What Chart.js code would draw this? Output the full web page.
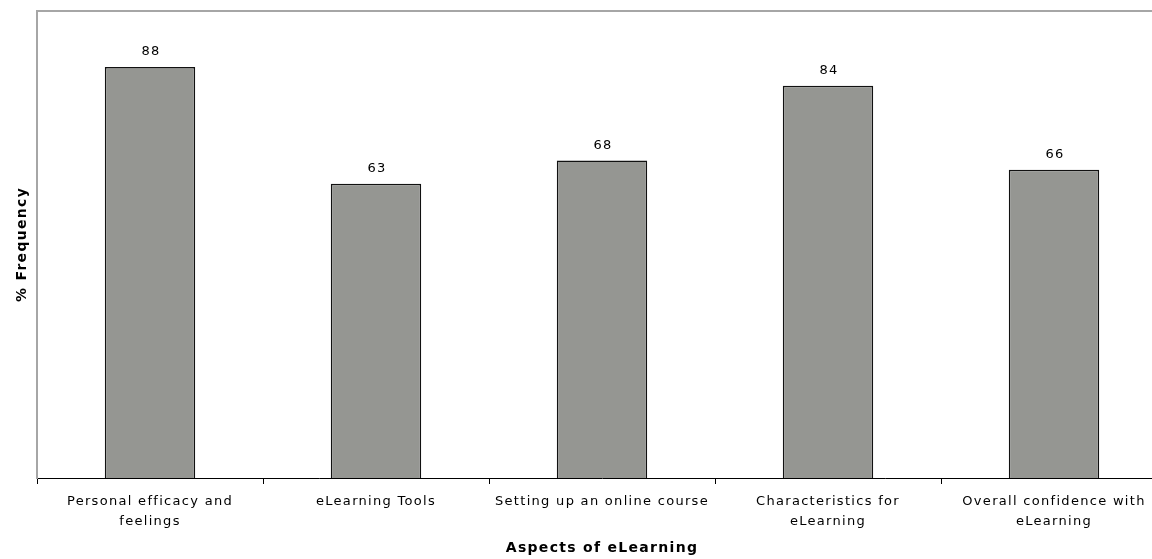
<!DOCTYPE html>
<html>
<head>
<meta charset="utf-8">
<script src="https://cdn.jsdelivr.net/npm/chart.js@4"></script>
<style>
  html, body { margin: 0; padding: 0; background: #fff; overflow: hidden; }
  #wrap { width: 1170px; height: 559px; }
</style>
</head>
<body>
<div id="wrap"><canvas id="aspectsChart"></canvas></div>
<script>
// ---------- data ----------
const categories = [
  ["Personal efficacy and", "feelings"],
  "eLearning Tools",
  "Setting up an online course",
  ["Characteristics for", "eLearning"],
  ["Overall confidence with", "eLearning"],
];
const frequencies = [88, 63, 68, 84, 66];

const $aspectsChart = document.getElementById("aspectsChart");

// the old chart font is wide, so spread the letters a bit
const wideText = {
  id: "wideText",
  beforeDraw(chart) {
    chart.ctx.letterSpacing = "1.3px";
  },
};

// draws the value above every bar
const valueLabels = {
  id: "valueLabels",
  afterDatasetsDraw(chart) {
    const ctx = chart.ctx;
    const meta = chart.getDatasetMeta(0);
    ctx.save();
    ctx.font = "13px 'DejaVu Sans'";
    ctx.fillStyle = "#000";
    ctx.textAlign = "center";
    ctx.textBaseline = "middle";
    meta.data.forEach((bar, i) => {
      ctx.fillText(frequencies[i], bar.x + 1, bar.y - 15);
    });
    ctx.restore();
  },
};

// gray frame line on top of the plot area
const topBorder = {
  id: "topBorder",
  beforeDraw(chart) {
    const { ctx, chartArea } = chart;
    ctx.save();
    ctx.strokeStyle = "#a6a6a6";
    ctx.lineWidth = 2;
    ctx.beginPath();
    ctx.moveTo(chartArea.left, chartArea.top);
    ctx.lineTo(chartArea.right + 5, chartArea.top);
    ctx.stroke();
    ctx.restore();
  },
};

new Chart($aspectsChart, {
  type: "bar",
  data: {
    labels: categories,
    datasets: [
      {
        data: frequencies,
        backgroundColor: "#959692",
        borderColor: "#111",
        borderWidth: 1.5,
        categoryPercentage: 1,
        barPercentage: 0.4,
      },
    ],
  },
  options: {
    responsive: true,
    maintainAspectRatio: false,
    animation: false,
    layout: { padding: { top: 11, right: 3, left: 0, bottom: 0 } },
    plugins: {
      legend: { display: false },
      tooltip: { enabled: false },
    },
    scales: {
      x: {
        afterFit: (scale) => {
          scale.height = 81;
        },
        grid: {
          display: true,
          drawOnChartArea: false,
          tickLength: 6,
          tickColor: "#000",
          offset: true,
        },
        border: { color: "#000", width: 1 },
        ticks: {
          color: "#000",
          maxRotation: 0,
          autoSkip: false,
          padding: 8,
          font: { family: "'DejaVu Sans'", size: 13, lineHeight: "20px" },
        },
        title: {
          display: true,
          text: "Aspects of eLearning",
          color: "#000",
          padding: { top: 0, bottom: 2 },
          font: { family: "'DejaVu Sans'", size: 14, weight: "bold" },
        },
      },
      y: {
        min: 0,
        max: 100,
        afterFit: (scale) => {
          scale.width = 37;
        },
        grid: { display: false },
        border: { color: "#a6a6a6", width: 2 },
        ticks: { display: false },
        title: {
          display: true,
          text: "% Frequency",
          color: "#000",
          padding: { top: 14, bottom: 0 },
          font: { family: "'DejaVu Sans'", size: 14, weight: "bold" },
        },
      },
    },
  },
  plugins: [wideText, valueLabels, topBorder],
});
</script>
</body>
</html>
